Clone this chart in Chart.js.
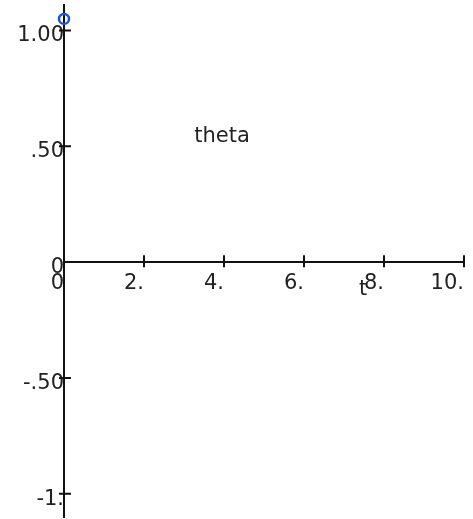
<!DOCTYPE html>
<html>
<head>
<meta charset="utf-8">
<script src="https://cdn.jsdelivr.net/npm/chart.js@4.4.1/dist/chart.umd.min.js"></script>
<style>
  body { margin: 0; background: #fff; }
  canvas { display: block; }
</style>
</head>
<body>
<canvas id="grafica" width="473" height="519"></canvas>
<script>
// valores de theta en funcion de t
const tiempos = [0];
const theta = [1.05];

const ticksX = [0, 2, 4, 6, 8, 10];
const etiquetasX = ["0", "2.", "4.", "6.", "8.", "10."];
const ticksY = [-1, -0.5, 0, 0.5, 1];
const etiquetasY = ["-1.", "-.50", "0", ".50", "1.00"];

const fuente = "'DejaVu Sans', sans-serif";

// marcas que cruzan los ejes, el titulo y el nombre del eje t
const marcas = {
  id: "marcas",
  beforeDatasetsDraw(chart) {
    const ctx = chart.ctx;
    const ejeX = chart.scales.x;
    const ejeY = chart.scales.y;
    const x0 = ejeX.getPixelForValue(0);
    const y0 = ejeY.getPixelForValue(0);
    ctx.save();
    ctx.strokeStyle = "#111";
    ctx.lineWidth = 2;
    ctx.beginPath();
    ticksX.forEach(v => {
      if (v === 0) return;
      const px = ejeX.getPixelForValue(v);
      ctx.moveTo(px, y0 - 7);
      ctx.lineTo(px, y0 + 5);
    });
    ticksY.forEach(v => {
      if (v === 0) return;
      const py = ejeY.getPixelForValue(v);
      ctx.moveTo(x0 - 5, py);
      ctx.lineTo(x0 + 7, py);
    });
    ctx.stroke();

    ctx.fillStyle = "#222";
    ctx.font = "21px " + fuente;
    ctx.textAlign = "center";
    ctx.textBaseline = "alphabetic";
    ctx.fillText("theta", 222, 142);
    ctx.fillText("t", 363, 295);
    ctx.restore();
  }
};

// los ejes cruzan en el origen, sin reservar margen para las etiquetas
const sinMargen = eje => {
  eje.paddingTop = 0;
  eje.paddingBottom = 0;
  eje.paddingLeft = 0;
  eje.paddingRight = 0;
};

const contenedor = document.querySelector("#grafica").getContext("2d");

const grafica = new Chart(contenedor, {
  type: "scatter",
  data: {
    datasets: [{
      label: "theta",
      data: tiempos.map((t, i) => ({ x: t, y: theta[i] })),
      pointStyle: "circle",
      pointRadius: 5,
      borderWidth: 2.5,
      borderColor: "#1a4df0",
      backgroundColor: "rgba(255,255,255,0)",
      clip: false
    }]
  },
  options: {
    responsive: false,
    animation: false,
    layout: { autoPadding: false, padding: { left: 64, right: 9, top: 5, bottom: 2 } },
    plugins: {
      legend: { display: false },
      tooltip: { enabled: false }
    },
    scales: {
      x: {
        type: "linear",
        min: 0,
        max: 10,
        position: { y: 0 },
        afterBuildTicks: eje => { eje.ticks = ticksX.map(v => ({ value: v })); },
        afterFit: sinMargen,
        grid: { display: true, drawOnChartArea: false, drawTicks: false },
        border: { display: true, color: "#111", width: 2 },
        ticks: {
          autoSkip: false,
          maxRotation: 0,
          align: "end",
          padding: 9,
          color: "#222",
          font: { family: fuente, size: 21 },
          callback: (v, i) => etiquetasX[i]
        }
      },
      y: {
        type: "linear",
        min: -1.1,
        max: 1.11,
        position: { x: 0 },
        afterBuildTicks: eje => { eje.ticks = ticksY.map(v => ({ value: v })); },
        afterFit: sinMargen,
        grid: { display: true, drawOnChartArea: false, drawTicks: false },
        border: { display: true, color: "#111", width: 2 },
        ticks: {
          autoSkip: false,
          color: "#222",
          font: { family: fuente, size: 21, lineHeight: 0.5 },
          // linea vacia arriba para bajar un poco cada etiqueta
          callback: (v, i) => ["", etiquetasY[i]]
        }
      }
    }
  },
  plugins: [marcas]
});
</script>
</body>
</html>
